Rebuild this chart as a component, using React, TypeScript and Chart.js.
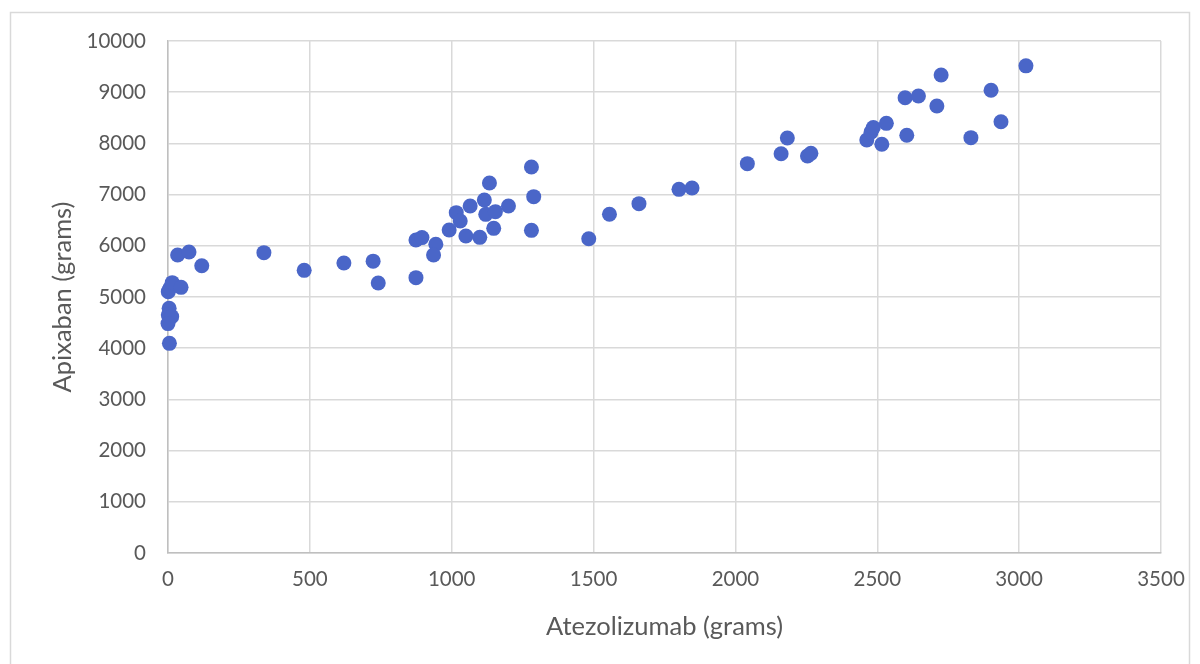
import React, { useEffect, useRef } from "react";
import { Chart, registerables } from "chart.js";

Chart.register(...registerables);

const atezolizumab = [
  1, 7, 15, 46, 4, 1, 13, 0, 5, 34, 74, 119, 338, 480, 620, 723, 741, 874, 874, 895,
  944, 936, 991, 1016, 1030, 1050, 1099, 1065, 1115, 1120, 1154, 1148, 1133, 1200, 1281, 1289,
  1281, 1483, 1556, 1660, 1801, 1847, 2042, 2161, 2183, 2254, 2266, 2463, 2478, 2486, 2516,
  2532, 2598, 2604, 2645, 2710, 2725, 2830, 2901, 2936, 3024,
];
const apixaban = [
  5104, 5175, 5280, 5189, 4779, 4648, 4616, 4480, 4095, 5820, 5880, 5611, 5866, 5521, 5664, 5700, 5273, 5378, 6113, 6160,
  6030, 5820, 6309, 6647, 6484, 6191, 6165, 6777, 6895, 6614, 6667, 6341, 7227, 6777, 7539, 6960,
  6302, 6139, 6615, 6823, 7103, 7129, 7604, 7799, 8105, 7754, 7806, 8066, 8220, 8310, 7982,
  8392, 8893, 8158, 8926, 8730, 9336, 8112, 9037, 8424, 9515,
];
const xTitle = "Atezolizumab (grams)";
const yTitle = "Apixaban (grams)";

const FONT = "Lato, 'Open Sans', sans-serif";

export default function App() {
  const ref = useRef<HTMLCanvasElement | null>(null);
  useEffect(() => {
    if (!ref.current) return;
    const bg = {
      id: "bg",
      beforeDraw(chart: any) {
        const ctx = chart.ctx;
        ctx.save();
        ctx.fillStyle = "#ffffff";
        ctx.fillRect(0, 0, chart.width, chart.height);
        ctx.strokeStyle = "#d9d9d9";
        ctx.lineWidth = 1.5;
        ctx.strokeRect(10.5, 12.5, 1179, 680);
        ctx.restore();
      },
    };
    const chart = new Chart(ref.current, {
      type: "scatter",
      data: {
        datasets: [
          {
            data: atezolizumab.map((x, i) => ({ x, y: apixaban[i] })),
            backgroundColor: "#4A66C8",
            borderColor: "#4A66C8",
            pointRadius: 7.5,
            pointBorderWidth: 0,
            clip: false as any,
          },
        ],
      },
      options: {
        animation: false,
        responsive: false,
        devicePixelRatio: 1,
        layout: { padding: { top: 41, left: 47, right: 39, bottom: 22 } },
        plugins: { legend: { display: false }, tooltip: { enabled: false } },
        scales: {
          x: {
            type: "linear",
            min: 0,
            max: 3500,
            ticks: {
              stepSize: 500,
              color: "#595959",
              font: { family: FONT, size: 20.5 },
              padding: 14,
              callback: (v: any) => String(v),
            },
            grid: { color: "#d9d9d9", lineWidth: 1.5, drawTicks: false },
            border: { color: "#bfbfbf", width: 1.5 },
            title: { display: true, text: xTitle, color: "#595959", font: { family: FONT, size: 25.5 }, padding: 0 },
            afterFit(scale: any) {
              scale.height = 553 - 0 + 0 - 553 + (664 - 22 - 553);
            },
          },
          y: {
            type: "linear",
            min: 0,
            max: 10000,
            ticks: {
              stepSize: 1000,
              color: "#595959",
              font: { family: FONT, size: 20.5 },
              padding: 22,
              callback: (v: any) => String(v),
            },
            grid: { color: "#d9d9d9", lineWidth: 1.5, drawTicks: false },
            border: { color: "#bfbfbf", width: 1.5 },
            title: { display: true, text: yTitle, color: "#595959", font: { family: FONT, size: 25.5 }, padding: 0 },
            afterFit(scale: any) {
              scale.width = 168 - 47;
            },
          },
        },
      },
      plugins: [bg],
    });
    return () => chart.destroy();
  }, []);
  return (
    <div style={{ position: "fixed", left: 0, top: 0, width: 1200, height: 664, background: "#fff" }}>
      <canvas ref={ref} width={1200} height={664} style={{ width: 1200, height: 664, display: "block" }} />
    </div>
  );
}
